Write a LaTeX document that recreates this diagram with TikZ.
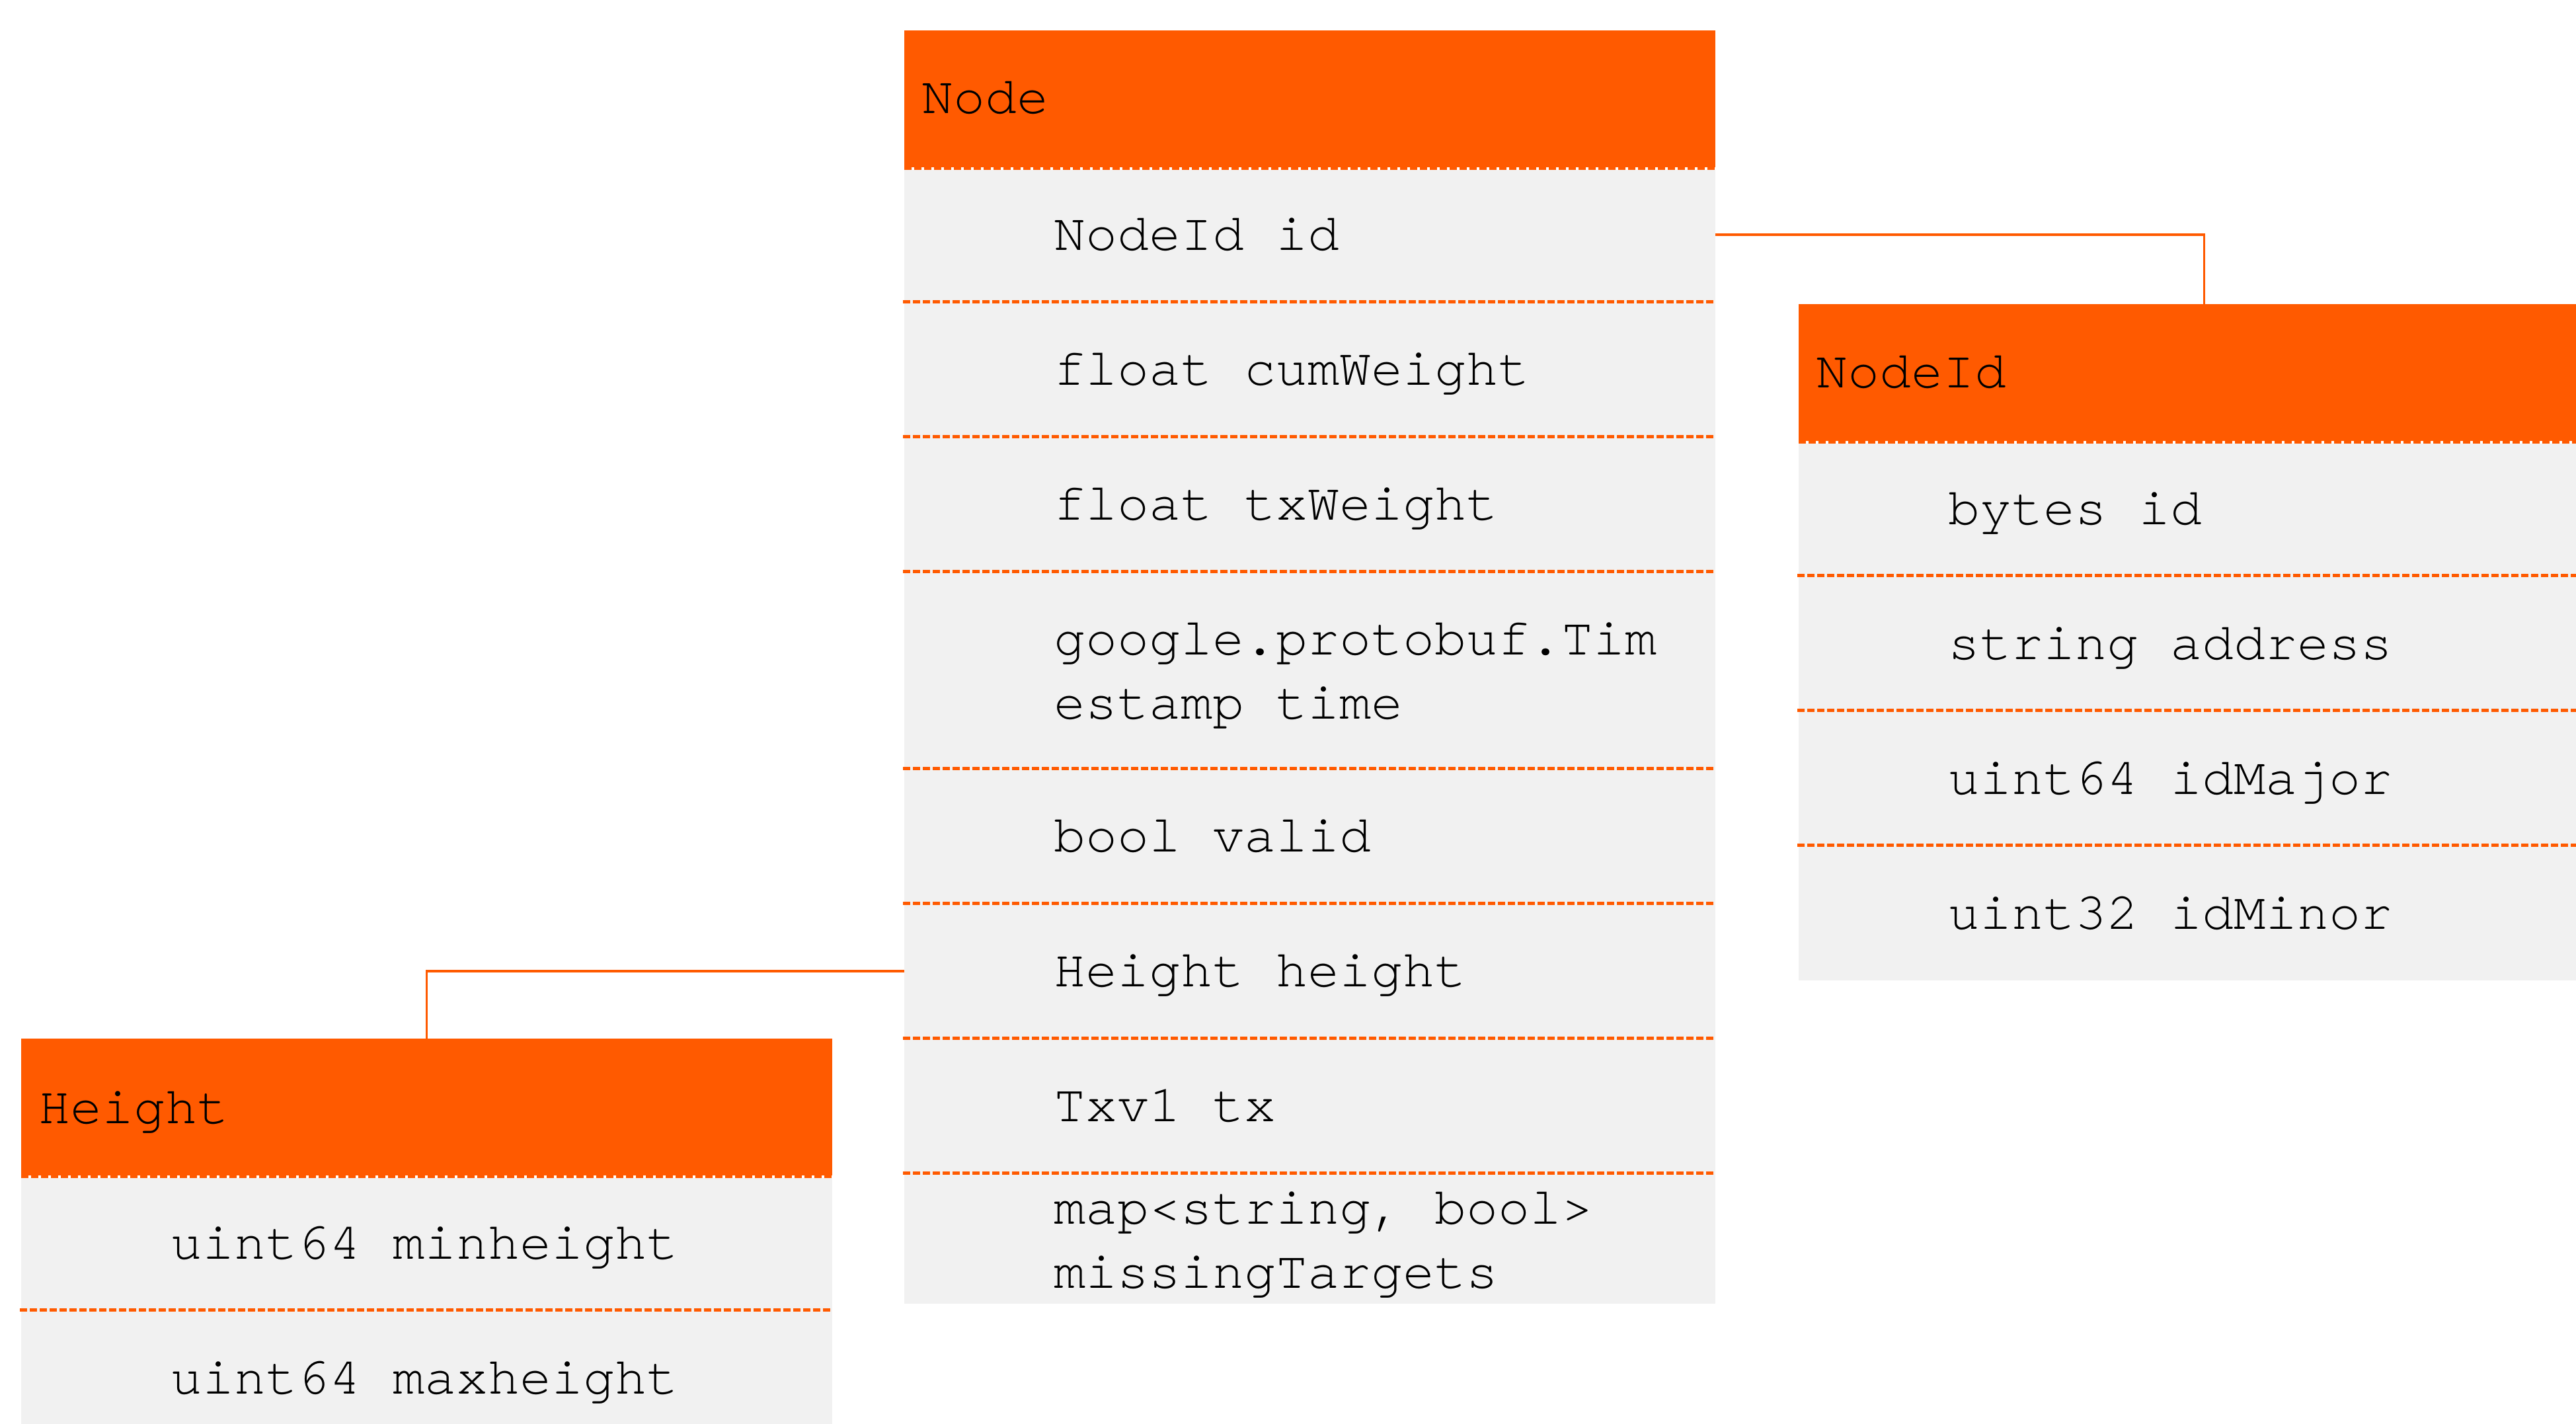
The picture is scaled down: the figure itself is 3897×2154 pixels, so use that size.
\documentclass[tikz,border=0pt]{standalone}
\usepackage{fontspec}
\newfontfamily\mono[Ligatures=NoCommon]{TeX Gyre Cursor}
\definecolor{hdr}{RGB}{255,90,0}
\definecolor{rowbg}{RGB}{241,241,241}

\begin{document}
\begin{tikzpicture}[x=0.2pt,y=-0.2pt,
  cell/.style={rectangle, inner sep=0pt, outer sep=0pt, draw=none, anchor=north west, minimum width=245.4pt},
  headcell/.style={cell, fill=hdr, minimum height=41.4pt},
  bodycell/.style={cell, fill=rowbg, minimum height=40.8pt},
  label/.style={anchor=base west, inner sep=0pt, font=\mono\fontsize{16pt}{19.4pt}\selectfont, text=black},
  divider/.style={draw=hdr, line width=1pt, dash pattern=on 2.2pt off 0.8pt},
  headgap/.style={draw=white, line width=0.8pt},
  headrule/.style={draw=hdr, line width=0.8pt, dash pattern=on 2.2pt off 0.8pt},
  conn/.style={draw=hdr, line width=0.7pt}]

\useasboundingbox (0,0) rectangle (3897,2154);
\clip (0,0) rectangle (3897,2154);

% ---------- message Node ----------
\node[headcell] (nHead) at (1368,46) {};
\node[bodycell] (nR1) at (1368,253) {};
\node[bodycell] (nR2) at (1368,457) {};
\node[bodycell] (nR3) at (1368,661) {};
\node[bodycell, minimum height=59.6pt] (nR4) at (1368,865) {};
\node[bodycell] (nR5) at (1368,1163) {};
\node[bodycell] (nR6) at (1368,1367) {};
\node[bodycell] (nR7) at (1368,1571) {};
\node[bodycell, minimum height=39.4pt] (nR8) at (1368,1775) {};

\draw[headgap] (1368,255) -- (2595,255);
\draw[headrule] (1368,255) -- (2595,255);
\foreach \yy in {457,661,865,1163,1367,1571,1775}
  \draw[divider] (1366,\yy) -- (2595,\yy);

\node[label] (tNode) at (1393,172) {Node};
\node[label] (tN1) at (1593,379) {NodeId id};
\node[label] (tN2) at (1593,583) {float cumWeight};
\node[label] (tN3) at (1593,787) {float txWeight};
\node[label] (tN4a) at (1593,991) {google.protobuf.Tim};
\node[label] (tN4b) at (1593,1088) {estamp time};
\node[label] (tN5) at (1593,1289) {bool valid};
\node[label] (tN6) at (1593,1493) {Height height};
\node[label] (tN7) at (1593,1697) {Txv1 tx};
\node[label] (tN8a) at (1593,1852) {map<string, bool>};
\node[label] (tN8b) at (1593,1949) {missingTargets};

% ---------- message NodeId ----------
\node[headcell] (iHead) at (2721,460) {};
\node[bodycell] (iR1) at (2721,667) {};
\node[bodycell] (iR2) at (2721,871) {};
\node[bodycell] (iR3) at (2721,1075) {};
\node[bodycell, minimum height=40.8pt] (iR4) at (2721,1279) {};

\draw[headgap] (2721,669) -- (3948,669);
\draw[headrule] (2721,669) -- (3948,669);
\foreach \yy in {871,1075,1279}
  \draw[divider] (2719,\yy) -- (3948,\yy);

\node[label] (tId) at (2746,587) {NodeId};
\node[label] (tI1) at (2946,794) {bytes id};
\node[label] (tI2) at (2946,998) {string address};
\node[label] (tI3) at (2946,1202) {uint64 idMajor};
\node[label] (tI4) at (2946,1406) {uint32 idMinor};

% ---------- message Height ----------
\node[headcell] (hHead) at (32,1571) {};
\node[bodycell] (hR1) at (32,1778) {};
\node[bodycell] (hR2) at (32,1982) {};

\draw[headgap] (32,1780) -- (1259,1780);
\draw[headrule] (32,1780) -- (1259,1780);
\draw[divider] (30,1982) -- (1259,1982);

\node[label] (tH) at (57,1700) {Height};
\node[label] (tH1) at (257,1905) {uint64 minheight};
\node[label] (tH2) at (257,2109) {uint64 maxheight};

% ---------- field references ----------
\draw[conn] (nR1.east) -| (iHead.north);
\draw[conn] (nR6.west) -| (hHead.north);
\end{tikzpicture}
\end{document}
